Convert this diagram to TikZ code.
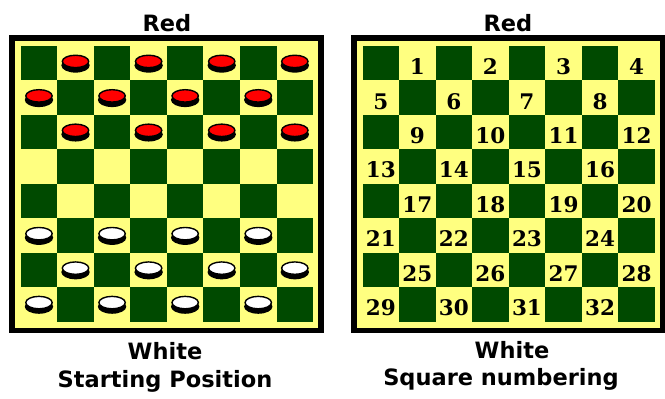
\documentclass[tikz,border=0pt]{standalone}
\usepackage{fontspec}
\setmainfont{DejaVu Sans}
\newfontfamily\numfont{DejaVu Serif}
\definecolor{boardyellow}{RGB}{255,255,128}
\definecolor{boardgreen}{RGB}{0,74,0}
\definecolor{piecered}{RGB}{255,0,0}
\newcommand\drawpiece[3]{%
  \fill[black] (#1,#2+2.2) ellipse [x radius=14.2, y radius=7.2];
  \filldraw[fill=#3, draw=black, line width=1.4] (#1,#2-1.8) ellipse [x radius=13.2, y radius=6.2];
}
\begin{document}
\begin{tikzpicture}[x=1pt,y=-1pt,
  lab/.style={font=\fontsize{22.5}{27}\selectfont\bfseries, inner sep=0pt, anchor=base},
  num/.style={font=\fontsize{21.5}{25}\selectfont\numfont\bfseries, inner sep=0pt, anchor=base},
  frame/.style={fill=black},
  field/.style={fill=boardyellow},
  darksq/.style={fill=boardgreen}]
\useasboundingbox (0,0) rectangle (665,399);
\fill[white] (0,0) rectangle (665,399);
\def\sw{36.55}
\def\sh{34.45}
% frames
\fill[frame] (9.3,35) rectangle (323.5,333.3);
\fill[field] (15,40.7) rectangle (317.8,327.6);
\fill[frame] (351,35) rectangle (666,333.3);
\fill[field] (356.7,40.7) rectangle (659.6,327.6);
% squares
\foreach \ox in {20.7,362.5}{
  \foreach \r in {0,...,7}{
    \foreach \c in {0,...,7}{
      \pgfmathtruncatemacro\parity{mod(\r+\c,2)}
      \ifnum\parity=0
        \fill[darksq] (\ox+\c*\sw,46+\r*\sh) rectangle (\ox+\c*\sw+\sw,46+\r*\sh+\sh);
      \fi
    }
  }
}
% pieces
\foreach \r in {0,1,2,5,6,7}{
  \foreach \k in {0,...,3}{
    \pgfmathtruncatemacro\cc{2*\k+1-mod(\r,2)}
    \pgfmathsetmacro\px{20.7+\cc*\sw+\sw/2}
    \pgfmathsetmacro\py{46+\r*\sh+\sh/2}
    \ifnum\r<3
      \drawpiece{\px}{\py}{piecered}
    \else
      \drawpiece{\px}{\py}{white}
    \fi
  }
}
% numbers
\foreach \r in {0,...,7}{
  \foreach \k in {0,...,3}{
    \pgfmathtruncatemacro\cc{2*\k+1-mod(\r,2)}
    \pgfmathtruncatemacro\n{4*\r+\k+1}
    \pgfmathsetmacro\px{362.5+\cc*\sw+\sw/2}
    \pgfmathsetmacro\py{46+\r*\sh+28.6}
    \node[num] (n\n) at (\px,\py) {\n};
  }
}
% labels
\node[lab] (redL) at (167,31) {Red};
\node[lab] (redR) at (508,31) {Red};
\node[lab] (whiteL) at (165,359) {White};
\node[lab] (startL) at (165,387) {Starting Position};
\node[lab] (whiteR) at (512,358) {White};
\node[lab] (numR) at (501,385) {Square numbering};
\end{tikzpicture}
\end{document}
